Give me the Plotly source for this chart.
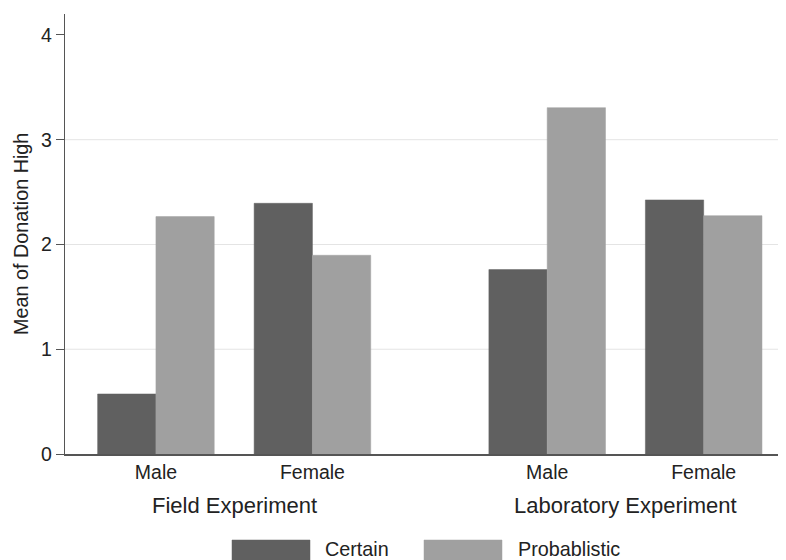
import plotly.graph_objects as go

experiments = ["Field Experiment", "Laboratory Experiment"]
sexes = ["Male", "Female"]
series_names = ["Certain", "Probablistic"]
# values ordered: Field Male, Field Female, Lab Male, Lab Female
certain = [0.573, 2.393, 1.76, 2.425]
probablistic = [2.266, 1.897, 3.306, 2.275]
y_ticks = [0, 1, 2, 3, 4]

colors = ["#606060", "#a0a0a0"]
FONT = "Liberation Sans, Arial, Helvetica, sans-serif"

# the page body adds an 8px margin; size the figure so it fills the window
OFF = 8
W, H = 786 - OFF, 560 - OFF
ML, MT = 65 - OFF, 14 - OFF
PLOT_BOTTOM = 454 - OFF
MR, MB = 0, H - PLOT_BOTTOM

# category positions: sexes within experiment, wider gap between experiments
group_step = 2.5
positions = []
labels = []
for ei, _ in enumerate(experiments):
    for si, s in enumerate(sexes):
        positions.append(ei * group_step + si)
        labels.append(s)

bw = 0.3725
fig = go.Figure()
for vals, name, col, off in [(certain, series_names[0], colors[0], -bw),
                              (probablistic, series_names[1], colors[1], 0)]:
    fig.add_trace(go.Bar(
        x=positions, y=vals, name=name, width=bw, offset=off,
        marker=dict(color=col, line=dict(color=col, width=0.5)),
        showlegend=False,
    ))

# gridlines (no gridline at the top tick, as in the reference)
for v in y_ticks[1:-1]:
    fig.add_shape(type="line", xref="paper", yref="y", x0=0, x1=1, y0=v, y1=v,
                  line=dict(color="#e4e4e4", width=1), layer="below")

pw, ph = W - ML - MR, H - MT - MB
def px(xs):  # screen x -> paper
    return (xs - OFF - ML) / pw
def py(ys):  # screen y -> paper
    return (PLOT_BOTTOM - (ys - OFF)) / ph

# experiment labels
for ei, e in enumerate(experiments):
    center = ei * group_step + (len(sexes) - 1) / 2
    fig.add_annotation(x=center, xref="x", y=py(505), yref="paper",
                       text=e, showarrow=False, yanchor="middle", xanchor="center",
                       font=dict(family=FONT, size=22, color="#222"))

# y-axis title
fig.add_annotation(x=px(21), xref="paper", y=py(234), yref="paper",
                   text="Mean of Donation High", textangle=-90, showarrow=False,
                   xanchor="center", yanchor="middle",
                   font=dict(family=FONT, size=19.8, color="#222"))

# custom legend (wide swatches like the reference)
legend_items = [(series_names[0], colors[0], 232, 310, 323),
                (series_names[1], colors[1], 424, 502, 516)]
for name, col, x0, x1, tx in legend_items:
    fig.add_shape(type="rect", xref="paper", yref="paper",
                  x0=px(x0), x1=px(x1), y0=py(540), y1=py(562),
                  fillcolor=col, line=dict(color=col, width=0.5))
    fig.add_annotation(x=px(tx), xref="paper", y=py(549), yref="paper",
                       text=name, showarrow=False, xanchor="left", yanchor="middle",
                       font=dict(family=FONT, size=19.8, color="#222"))

fig.update_layout(
    width=W, height=H,
    margin=dict(l=ML, r=MR, t=MT, b=MB, pad=0),
    paper_bgcolor="white", plot_bgcolor="white",
    font=dict(family=FONT, size=19.5, color="#222"),
    xaxis=dict(range=[-0.581, 4.026], tickmode="array", tickvals=positions,
               ticktext=labels, showgrid=False, zeroline=False,
               showline=True, linecolor="#555", linewidth=1.5,
               ticks="", tickfont=dict(size=19.5, color="#222")),
    yaxis=dict(range=[0, 4.2], tickmode="array", tickvals=y_ticks,
               showgrid=False, zeroline=False, showline=True,
               linecolor="#555", linewidth=1.3, ticks="outside", ticklen=8,
               tickcolor="#555", tickwidth=1.3,
               tickfont=dict(size=19.5, color="#222")),
    showlegend=False,
)

fig.write_html("out.html")
